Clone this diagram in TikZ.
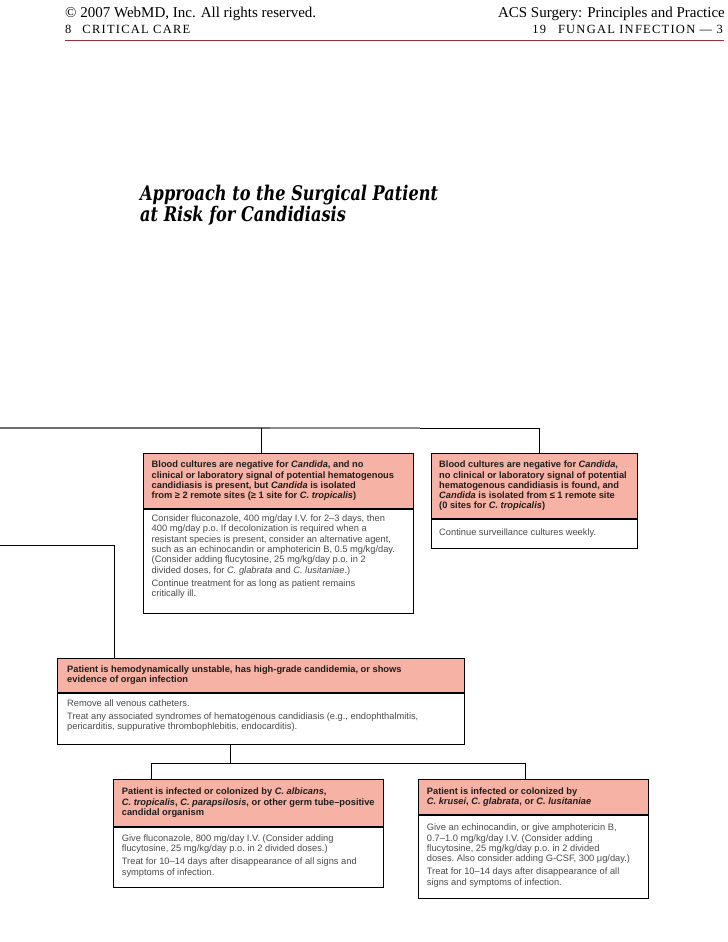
\documentclass[tikz,border=0pt]{standalone}
\usepackage{fontspec}
\setmainfont{Liberation Serif}
\newfontfamily\sansf{Liberation Sans}
\newfontfamily\titlef[FakeStretch=0.8]{DejaVu Serif}
\definecolor{pinkc}{RGB}{246,178,164}
\definecolor{hdrtext}{RGB}{30,30,30}
\definecolor{bodytextc}{RGB}{75,75,75}
\definecolor{rulered}{RGB}{160,45,60}
\definecolor{grayA}{RGB}{110,110,110}
\definecolor{grayB}{RGB}{140,140,140}
\newcommand\hdrfont{\sansf\bfseries\fontsize{9.3bp}{10.3bp}\selectfont\frenchspacing}
\newcommand\bodyfont{\sansf\fontsize{9.3bp}{10.3bp}\selectfont\frenchspacing}
\tikzset{
  hdrframe/.style={draw=black, line width=0.8bp, fill=pinkc, inner sep=0pt, anchor=north west},
  hdrtxt/.style={anchor=west, inner sep=0pt, align=left, font=\hdrfont, text=hdrtext},
  bodyframe/.style={draw=black, line width=0.8bp, fill=white, anchor=north west, inner sep=0pt},
  bodytext/.style={anchor=north west, inner sep=0pt, align=left, font=\bodyfont, text=bodytextc},
  conn/.style={line width=1bp, draw=black},
  headtxt/.style={inner sep=0pt, font=\fontsize{15bp}{16bp}\selectfont},
  headsc/.style={inner sep=0pt, font=\fontsize{12.5bp}{13bp}\selectfont\addfontfeatures{LetterSpace=10}}
}
\begin{document}
\begin{tikzpicture}[x=1bp,y=-1bp]
\useasboundingbox (0,0) rectangle (728,942);

% page header
\node[headtxt, anchor=base west] (copy) at (65,17) {© 2007 WebMD, Inc. All rights reserved.};
\node[headsc, anchor=base west] (sect) at (65,33) {8\hspace{11bp}CRITICAL CARE};
\node[headtxt, anchor=base east] (book) at (725,17) {ACS Surgery: Principles and Practice};
\node[headsc, anchor=base east] (chap) at (723,33) {19\hspace{12bp}FUNGAL INFECTION — 3};
\coordinate (rl) at (65,40);
\coordinate (rr) at (724,40);
\draw[rulered, line width=0.7bp] (rl) -- (rr);

% title
\node[inner sep=0pt, anchor=north west, align=left,
      font=\titlef\bfseries\itshape\fontsize{20.2bp}{18bp}\selectfont] (title) at (140,185)
  {Approach to the Surgical Patient\\at Risk for Candidiasis};

% box 1
\node[hdrframe, minimum width=270bp, minimum height=55bp] (h1) at (143,453) {};
\node[hdrtxt] (ht1) at ([xshift=8.5bp]h1.west)
 {Blood cultures are negative for \textit{Candida}, and no\\
  clinical or laboratory signal of potential hematogenous\\
  candidiasis is present, but \textit{Candida} is isolated\\
  from ≥ 2 remote sites (≥ 1 site for \textit{C. tropicalis})};
\node[bodyframe, minimum width=270bp, minimum height=104bp] (f1) at (h1.south west) {};
\node[bodytext] (t1) at ([xshift=8.5bp,yshift=-5.8bp]f1.north west)
 {Consider fluconazole, 400 mg/day I.V. for 2–3 days, then\\
  400 mg/day p.o. If decolonization is required when a\\
  resistant species is present, consider an alternative agent,\\
  such as an echinocandin or amphotericin B, 0.5 mg/kg/day.\\
  (Consider adding flucytosine, 25 mg/kg/day p.o. in 2\\
  divided doses, for \textit{C. glabrata} and \textit{C. lusitaniae}.)\\[3bp]
  Continue treatment for as long as patient remains\\
  critically ill.};

% box 2
\node[hdrframe, minimum width=206bp, minimum height=65bp] (h2) at (431,453) {};
\node[hdrtxt] (ht2) at ([xshift=8bp]h2.west)
 {Blood cultures are negative for \textit{Candida},\\
  no clinical or laboratory signal of potential\\
  hematogenous candidiasis is found, and\\
  \textit{Candida} is isolated from ≤ 1 remote site\\
  (0 sites for \textit{C. tropicalis})};
\node[bodyframe, minimum width=206bp, minimum height=29bp] (f2) at (h2.south west) {};
\node[bodytext] (t2) at ([xshift=8bp,yshift=-9.8bp]f2.north west)
 {Continue surveillance cultures weekly.};

% box 3
\node[hdrframe, minimum width=407bp, minimum height=34bp] (h3) at (57,658) {};
\node[hdrtxt] (ht3) at ([xshift=10bp]h3.west)
 {Patient is hemodynamically unstable, has high-grade candidemia, or shows\\
  evidence of organ infection};
\node[bodyframe, minimum width=407bp, minimum height=51bp] (f3) at (h3.south west) {};
\node[bodytext] (t3) at ([xshift=10bp,yshift=-6.6bp]f3.north west)
 {Remove all venous catheters.\\[3bp]
  Treat any associated syndromes of hematogenous candidiasis (e.g., endophthalmitis,\\
  pericarditis, suppurative thrombophlebitis, endocarditis).};

% box 4
\node[hdrframe, minimum width=270bp, minimum height=47bp] (h4) at (113,779) {};
\node[hdrtxt] (ht4) at ([xshift=8.7bp]h4.west)
 {Patient is infected or colonized by \textit{C. albicans},\\
  \textit{C. tropicalis}, \textit{C. parapsilosis}, or other germ tube–positive\\
  candidal organism};
\node[bodyframe, minimum width=270bp, minimum height=60bp] (f4) at (h4.south west) {};
\node[bodytext] (t4) at ([xshift=8.7bp,yshift=-7.6bp]f4.north west)
 {Give fluconazole, 800 mg/day I.V. (Consider adding\\
  flucytosine, 25 mg/kg/day p.o. in 2 divided doses.)\\[3bp]
  Treat for 10–14 days after disappearance of all signs and\\
  symptoms of infection.};

% box 5
\node[hdrframe, minimum width=230bp, minimum height=35bp] (h5) at (418,779) {};
\node[hdrtxt] (ht5) at ([xshift=8.7bp]h5.west)
 {Patient is infected or colonized by\\
  \textit{C. krusei}, \textit{C. glabrata}, or \textit{C. lusitaniae}};
\node[bodyframe, minimum width=230bp, minimum height=83bp] (f5) at (h5.south west) {};
\node[bodytext] (t5) at ([xshift=8.7bp,yshift=-9bp]f5.north west)
 {Give an echinocandin, or give amphotericin B,\\
  0.7–1.0 mg/kg/day I.V. (Consider adding\\
  flucytosine, 25 mg/kg/day p.o. in 2 divided\\
  doses. Also consider adding G-CSF, 300 μg/day.)\\[3bp]
  Treat for 10–14 days after disappearance of all\\
  signs and symptoms of infection.};

% connectors
\coordinate (in1) at (0,428);
\coordinate (g1) at (270,428);
\coordinate (g2) at (420,428);
\coordinate (j1) at (261,428);
\coordinate (j2) at (539,428);
\draw[grayA, line width=1.6bp] (in1) -- (g1);
\draw[grayB, line width=1.2bp] (g1) -- (g2);
\draw[conn] (g2) -- (j2);
\draw[conn] (j1) -- (j1 |- h1.north);
\draw[conn] (j2) -- (j2 |- h2.north);

\coordinate (in2) at (0,545);
\coordinate (k1) at (114,545);
\draw[conn] (in2) -- (k1) -- (k1 |- h3.north);

\coordinate (m1) at (230,763);
\coordinate (m2) at (151,763);
\coordinate (m3) at (525,763);
\draw[conn] (m1 |- f3.south) -- (m1);
\draw[conn] (m2) -- (m3);
\draw[conn] (m2) -- (m2 |- h4.north);
\draw[conn] (m3) -- (m3 |- h5.north);
\end{tikzpicture}
\end{document}
